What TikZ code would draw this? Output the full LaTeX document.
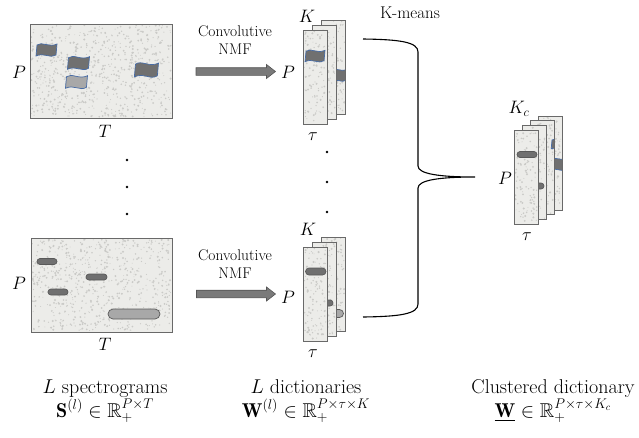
\RequirePackage{fix-cm}
\documentclass[tikz,border=0pt]{standalone}
\usepackage{amsmath,amssymb}
\usepackage{fontspec}
\usetikzlibrary{calc}
\definecolor{paper}{RGB}{236,236,233}
\definecolor{speck}{RGB}{202,202,199}
\definecolor{edgegray}{RGB}{105,105,105}
\definecolor{blobdark}{RGB}{112,112,112}
\definecolor{bloblight}{RGB}{168,168,168}
\definecolor{flagblue}{RGB}{72,108,165}
\definecolor{arrowgray}{RGB}{122,122,122}
\tikzset{
  sheet/.style={draw=edgegray, fill=paper, line width=0.9pt},
  sheetline/.style={draw=edgegray, line width=0.9pt},
  sheetnode/.style={fill=paper, draw=none, inner sep=0pt, outer sep=0pt},
  pill/.style={draw=edgegray!85!black, fill=#1, line width=0.7pt},
  flagshape/.style={draw=flagblue, fill=#1, line width=0.7pt},
  lbl/.style={font=\fontsize{18}{21}\selectfont, inner sep=0pt},
  convtxt/.style={font=\fontsize{15.5}{17.5}\selectfont, align=center, inner sep=0pt},
  caption/.style={font=\fontsize{20}{22}\selectfont, inner sep=0pt, anchor=base},
  arrowbody/.style={draw=arrowgray!70!black, fill=arrowgray, line width=0.6pt, line join=miter},
  dotmark/.style={circle, fill=black, inner sep=0pt, minimum size=2.6pt},
  bracestyle/.style={draw=black, line width=1.1pt},
}
% speckle texture: x, y (top-left), w, h, count
\newcommand{\speckle}[5]{%
  \foreach \i in {1,...,#5}{%
    \pgfmathsetmacro{\sx}{#1+1.2+rnd*(#3-2.4)}%
    \pgfmathsetmacro{\sy}{#2+1.2+rnd*(#4-2.4)}%
    \pgfmathsetmacro{\sr}{0.45+0.7*rnd}%
    \fill[speck] (\sx,\sy) circle (\sr pt);}}
% filled sheet with texture: x, y, w, h, count
\newcommand{\sheetfill}[5]{%
  \fill[paper] (#1,#2) rectangle ++(#3,#4);
  \speckle{#1}{#2}{#3}{#4}{#5}}
\newcommand{\sheetedge}[4]{%
  \draw[sheetline] (#1,#2) rectangle ++(#3,#4);}
% wavy flag: centre x, centre y, fill, scale
\newcommand{\wflag}[4]{%
  \begin{scope}[shift={(#1,#2)},scale=#4]
    \draw[flagshape=#3] (-10,-5) .. controls (-5,-9) and (2,-2) .. (10,-6)
      -- (9,5) .. controls (3,9) and (-3,2) .. (-11,6) -- cycle;
  \end{scope}}
% pill: x1,y1,x2,y2,fill,radius
\newcommand{\mypill}[6]{%
  \draw[pill=#5, rounded corners=#6pt] (#1,#2) rectangle (#3,#4);}
% block arrow between two named coordinates (horizontal)
\newcommand{\blockarrow}[2]{%
  \draw[arrowbody] ($(#1)+(0,-3.8)$) -- ($(#2)+(-9,-3.8)$) -- ($(#2)+(-9,-7)$) -- (#2)
    -- ($(#2)+(-9,7)$) -- ($(#2)+(-9,3.8)$) -- ($(#1)+(0,3.8)$) -- cycle;}
\begin{document}
\begin{tikzpicture}[x=1pt,y=-1pt]
\pgfmathsetseed{7}
\useasboundingbox (0,0) rectangle (639,437);

% ---------- top spectrogram ----------
\node[sheetnode, minimum width=142pt, minimum height=94pt] (S1) at (101,71) {};
\speckle{30}{24}{142}{94}{700}
\wflag{47}{50}{blobdark}{1}
\wflag{79}{63}{blobdark}{1.05}
\wflag{77}{82}{bloblight}{1.05}
\wflag{147}{70}{blobdark}{1.15}
\draw[sheetline] (S1.north west) rectangle (S1.south east);
\node[lbl] (S1P) at (19,72) {$P$};
\node[lbl] (S1T) at (105,131) {$T$};

% ---------- dots (left) ----------
\node[dotmark] (d1) at (127,160) {};
\node[dotmark] (d2) at (127,187) {};
\node[dotmark] (d3) at (127,214) {};

% ---------- bottom spectrogram ----------
\node[sheetnode, minimum width=141pt, minimum height=94pt] (S2) at (101.5,285) {};
\speckle{31}{238}{141}{94}{700}
\mypill{37}{258.5}{57}{264.5}{blobdark}{3}
\mypill{48}{289}{68}{295}{blobdark}{3}
\mypill{86}{274}{107}{280}{blobdark}{3}
\mypill{108}{309}{160}{319}{bloblight}{5}
\draw[sheetline] (S2.north west) rectangle (S2.south east);
\node[lbl] (S2P) at (19,283) {$P$};
\node[lbl] (S2T) at (105,344) {$T$};

% ---------- arrows ----------
\node[convtxt] (C1) at (235,40) {Convolutive\\NMF};
\coordinate (A1s) at (196,71.5);
\coordinate (A1e) at (275.5,71.5);
\blockarrow{A1s}{A1e}
\node[convtxt] (C2) at (235,264) {Convolutive\\NMF};
\coordinate (A2s) at (196.5,294);
\coordinate (A2e) at (275.5,294);
\blockarrow{A2s}{A2e}

% ---------- top dictionary stack ----------
\sheetfill{321.6}{20}{24}{94}{110}
\begin{scope}
  \clip (321.6,20) rectangle ++(24,94);
  \wflag{338}{75}{blobdark}{1}
\end{scope}
\sheetedge{321.6}{20}{24}{94}
\sheetfill{312.3}{25}{24}{94}{110}
\sheetedge{312.3}{25}{24}{94}
\sheetfill{303}{30}{24}{94}{110}
\wflag{315.5}{56}{blobdark}{0.95}
\sheetedge{303}{30}{24}{94}
\node[lbl] (D1K) at (307,16) {$K$};
\node[lbl] (D1P) at (288,72) {$P$};
\node[lbl] (D1t) at (313,137) {$\tau$};

% ---------- middle dots ----------
\node[dotmark] (m1) at (327,152) {};
\node[dotmark] (m2) at (327,182) {};
\node[dotmark] (m3) at (327,212) {};

% ---------- bottom dictionary stack ----------
\sheetfill{321.6}{237}{24}{94}{110}
\begin{scope}
  \clip (321.6,237) rectangle ++(24,94);
  \mypill{326}{309.5}{343.5}{317.5}{bloblight}{4}
\end{scope}
\sheetedge{321.6}{237}{24}{94}
\sheetfill{312.3}{242}{24}{94}{110}
\begin{scope}
  \clip (312.3,242) rectangle ++(24,94);
  \mypill{318}{300}{333}{306}{blobdark}{3}
\end{scope}
\sheetedge{312.3}{242}{24}{94}
\sheetfill{303}{247}{24}{94}{110}
\mypill{305.5}{268}{326}{275}{blobdark}{3.5}
\sheetedge{303}{247}{24}{94}
\node[lbl] (D2K) at (308,229) {$K$};
\node[lbl] (D2P) at (288,297) {$P$};
\node[lbl] (D2t) at (313,354) {$\tau$};

% ---------- brace ----------
\coordinate (Btop) at (363,39);
\coordinate (Bbot) at (363,317);
\coordinate (Btip) at (475,177);
\draw[bracestyle] (Btop) .. controls (400,39.5) and (418,42) .. (418,52)
  -- (418,166) .. controls (418,174) and (440,177) .. (Btip)
  .. controls (440,177) and (418,180) .. (418,188)
  -- (418,304) .. controls (418,314) and (400,316.5) .. (Bbot);
\node[font=\fontsize{17}{20}\selectfont, inner sep=0pt] (KM) at (410,13) {K-means};

% ---------- clustered stack ----------
\sheetfill{538}{116}{24}{94}{110}
\begin{scope}
  \clip (538,116) rectangle ++(24,94);
  \wflag{557}{164}{blobdark}{1}
\end{scope}
\sheetedge{538}{116}{24}{94}
\sheetfill{530}{120.7}{24}{94}{110}
\begin{scope}
  \clip (530,120.7) rectangle ++(24,94);
  \wflag{560}{144}{blobdark}{0.8}
\end{scope}
\sheetedge{530}{120.7}{24}{94}
\sheetfill{522}{125.3}{24}{94}{110}
\begin{scope}
  \clip (522,125.3) rectangle ++(24,94);
  \mypill{530}{183}{544}{189}{blobdark}{3}
\end{scope}
\sheetedge{522}{125.3}{24}{94}
\sheetfill{514}{130}{24}{94}{110}
\mypill{517}{151.5}{537}{157.5}{blobdark}{3}
\sheetedge{514}{130}{24}{94}
\node[lbl] (CK) at (519,109) {$K_c$};
\node[lbl] (CP) at (505,178) {$P$};
\node[lbl] (Ct) at (527,237) {$\tau$};

% ---------- captions ----------
\node[caption] (L1a) at (105,393) {$L$ spectrograms};
\node[caption] (L1b) at (105,417) {$\mathbf{S}^{(l)} \in \mathbb{R}_+^{P\times T}$};
\node[caption] (L2a) at (306,393) {$L$ dictionaries};
\node[caption] (L2b) at (306,417) {$\mathbf{W}^{(l)} \in \mathbb{R}_+^{P\times \tau\times K}$};
\node[caption] (L3a) at (553,393) {Clustered dictionary};
\node[caption] (L3b) at (553,417) {$\underline{\mathbf{W}} \in \mathbb{R}_+^{P\times \tau\times K_c}$};
\end{tikzpicture}
\end{document}
